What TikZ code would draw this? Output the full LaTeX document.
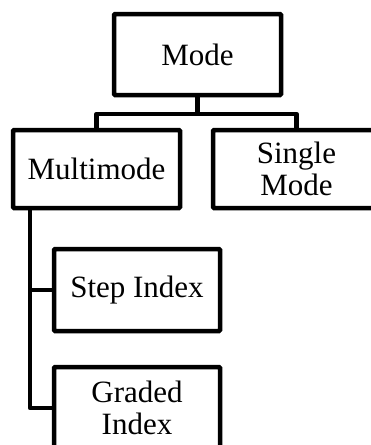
\documentclass[tikz,border=0pt]{standalone}
\usepackage{fontspec}
\setmainfont{Liberation Serif}
\begin{document}
\begin{tikzpicture}[x=1pt,y=-1pt,
  box/.style={draw=black,line width=4.5pt,rounded corners=1pt,inner sep=0pt,
    align=center,font=\fontsize{31}{32}\selectfont},
  link/.style={draw=black,line width=4.5pt,line join=round,line cap=butt}]
\useasboundingbox (0,0) rectangle (371,445);
\clip (0,0) rectangle (371,445);
\node[box,minimum width=167pt,minimum height=81pt] (mode) at (197.5,54.5) {Mode};
\node[box,minimum width=167pt,minimum height=78pt] (multi) at (96.5,169) {Multimode};
\node[box,minimum width=167pt,minimum height=78pt] (single) at (296.5,169) {Single\\Mode};
\node[box,minimum width=166pt,minimum height=82pt] (step) at (137,290) {Step Index};
\node[box,minimum width=166pt,minimum height=82pt] (graded) at (137,408) {Graded\\Index};
\coordinate (bar) at (0,114);
\coordinate (trunk) at (30,0);
\draw[link] (mode.south) -- (mode.south |- bar);
\draw[link] (multi.north) -- (multi.north |- bar) -- (single.north |- bar) -- (single.north);
\draw[link] (multi.south -| trunk) -- (trunk |- graded.west) -- (graded.west);
\draw[link] (trunk |- step.west) -- (step.west);
\end{tikzpicture}
\end{document}
